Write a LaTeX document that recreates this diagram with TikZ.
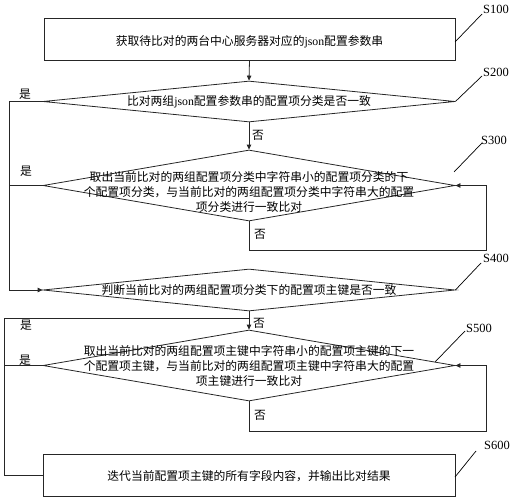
\documentclass[tikz,border=0pt]{standalone}
\usepackage{fontspec}
\setmainfont{Liberation Serif}
\newfontfamily\cjk{Noto Sans CJK SC}
\usetikzlibrary{shapes.geometric,arrows.meta}
\begin{document}
\begin{tikzpicture}[x=1pt,y=-1pt,
  ln/.style={draw=black!85, line width=0.8pt},
  arr/.style={ln, -{Triangle[length=5pt,width=4.5pt]}},
  boxn/.style={ln, rectangle, inner sep=0pt, minimum width=411pt, minimum height=42pt},
  dia/.style={ln, diamond, inner sep=0pt, minimum width=412pt},
  txt/.style={font=\cjk\fontsize{11.8}{14.6}\selectfont, align=center, inner sep=0pt, text=black},
  lab/.style={font=\fontsize{12.5}{14}\selectfont, inner sep=0pt},
  lead/.style={draw=black, line width=0.7pt}]
\useasboundingbox (0,0) rectangle (513,500);

% shapes
\node[boxn] (s100) at (249.5,39) {};
\node[dia, minimum height=41pt] (s200) at (249,101.5) {};
\node[dia, minimum height=71pt] (s300) at (249,185.5) {};
\node[dia, minimum height=42pt] (s400) at (249,290) {};
\node[dia, minimum height=71pt] (s500) at (249,365.5) {};
\node[boxn, minimum width=412pt] (s600) at (249,475) {};

% texts
\node[txt] (t100) at (249.5,42) {获取待比对的两台中心服务器对应的{\rmfamily json}配置参数串};
\node[txt] (t200) at (249,102) {比对两组{\rmfamily json}配置参数串的配置项分类是否一致};
\node[txt] (t300) at (249,192) {取出当前比对的两组配置项分类中字符串小的配置项分类的下\\个配置项分类，与当前比对的两组配置项分类中字符串大的配置\\项分类进行一致比对};
\node[txt] (t400) at (249,290) {判断当前比对的两组配置项分类下的配置项主键是否一致};
\node[txt] (t500) at (249,366) {取出当前比对的两组配置项主键中字符串小的配置项主键的下一\\个配置项主键，与当前比对的两组配置项主键中字符串大的配置\\项主键进行一致比对};
\node[txt] (t600) at (249,476) {迭代当前配置项主键的所有字段内容，并输出比对结果};

% step labels
\node[lab] (l100) at (496,9) {S100};
\node[lab] (l200) at (496,72) {S200};
\node[lab] (l300) at (494,140) {S300};
\node[lab] (l400) at (496,258) {S400};
\node[lab] (l500) at (479,328) {S500};
\node[lab] (l600) at (497,445) {S600};

\coordinate (a100) at (455,42);   \coordinate (b100) at (482,14);
\coordinate (b200) at (482,76);
\coordinate (a300) at (454,172);  \coordinate (b300) at (482,143);
\coordinate (b400) at (481,263);
\coordinate (a500) at (435,362);  \coordinate (b500) at (465,331);
\coordinate (a600) at (455,477);  \coordinate (b600) at (476,451);
\draw[lead] (a100) -- (b100);
\draw[lead] (s200.east) -- (b200);
\draw[lead] (a300) -- (b300);
\draw[lead] (s400.east) -- (b400);
\draw[lead] (a500) -- (b500);
\draw[lead] (a600) -- (b600);

% yes/no labels
\node[txt] (n1) at (258,135) {否};
\node[txt] (n2) at (260,234) {否};
\node[txt] (n3) at (259,323) {否};
\node[txt] (n4) at (260,415) {否};
\node[txt] (y1) at (25,94) {是};
\node[txt] (y2) at (26,171) {是};
\node[txt] (y3) at (26,325) {是};
\node[txt] (y4) at (25,360) {是};

% coordinates for connectors
\coordinate (L1) at (9,0);
\coordinate (L2) at (4,0);
\coordinate (R) at (486,0);
\coordinate (lp3) at (249,250);
\coordinate (lp5) at (249,431);
\coordinate (j4) at (249,318);

% main arrows
\draw[arr] (s100.south) -- (s200.north);
\draw[arr] (s200.south) -- (s300.north);
\draw[arr] (s400.south) -- (s500.north);

% left loop 1
\draw[arr] (s200.west) -- (L1 |- s200.west) -- (L1 |- s400.west) -- (s400.west);
\draw[ln] (s300.west) -- (L1 |- s300.west);

% S300 self loop
\draw[arr] (s300.south) -- (lp3) -- (R |- lp3) -- (R |- s300.east) -- (s300.east);

% left loop 2
\draw[ln] (j4) -- (L2 |- j4) -- (L2 |- s600.west) -- (s600.west);
\draw[ln] (s500.west) -- (L2 |- s500.west);

% S500 self loop
\draw[arr] (s500.south) -- (lp5) -- (R |- lp5) -- (R |- s500.east) -- (s500.east);
\end{tikzpicture}
\end{document}
